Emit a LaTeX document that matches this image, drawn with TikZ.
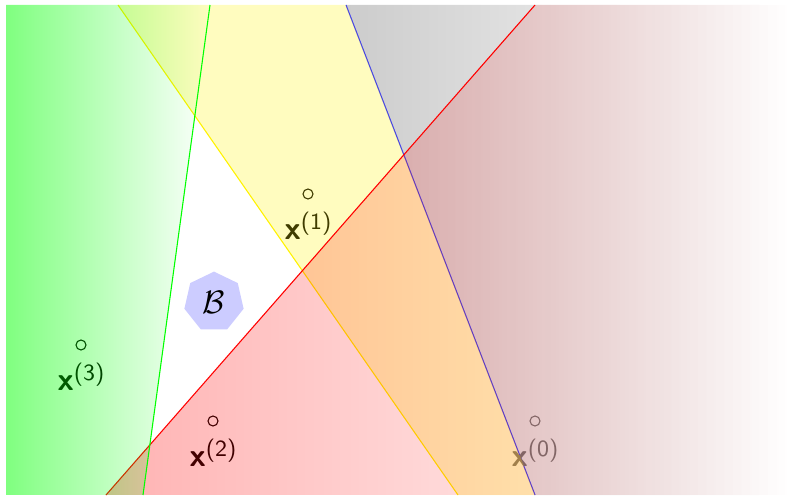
\documentclass[tikz,border=0pt]{standalone}
\usetikzlibrary{fadings, positioning, shapes.geometric}

\tikzfading[name=fade right, left color=transparent!0, right color=transparent!100]
\newcommand{\iterlabel}[1]{{\fontsize{12}{12}\selectfont\bfseries x}\raisebox{3.8pt}{\fontsize{8.6}{9}\selectfont(#1)}}

\begin{document}
\begin{tikzpicture}[
	x=0.013cm,
	y=-0.013cm,
	pt/.style={circle, draw=#1, line width=0.4pt, minimum size=0.13cm, inner sep=0pt},
	lbl/.style={text=#1, font=\fontsize{10}{12}\selectfont\sffamily, inner sep=0pt},
	cut/.style={draw=#1, line width=0.4pt},
	region/.style={fill=#1, path fading=fade right}
]

\useasboundingbox (0,0) rectangle (789,495);

% end points of the cuts
\coordinate (b1) at (346,5);
\coordinate (b2) at (535,495);
\coordinate (y1) at (118,5);
\coordinate (y2) at (458,495);
\coordinate (r1) at (535,5);
\coordinate (r2) at (106,495);
\coordinate (g1) at (210,5);
\coordinate (g2) at (143,495);

% cut at x^(0)
\shade[left color=gray!40, right color=white] (b1) -- (789,5) -- (789,495) -- (b2) -- cycle;
\draw[cut=blue!80] (b1) -- (b2);
\node[pt=black!55] (p0) at (535,421) {};
\node[lbl=black!55, below=0.15cm of p0] (l0) {\iterlabel{0}};

% cut at x^(1)
\node[pt=black] (p1) at (308,194) {};
\node[lbl=black, below=0.15cm of p1] (l1) {\iterlabel{1}};
\fill[yellow, fill opacity=0.25] (y1) -- (b1) -- (b2) -- (y2) -- cycle;
\draw[cut=yellow] (y1) -- (y2);

% cut at x^(2)
\node[pt=black] (p2) at (213,421) {};
\node[lbl=black, below=0.15cm of p2] (l2) {\iterlabel{2}};
\fill[region=red, fill opacity=0.3] (r1) -- (789,5) -- (789,495) -- (r2) -- cycle;
\draw[cut=red] (r1) -- (r2);

% cut at x^(3)
\node[pt=black] (p3) at (81,345) {};
\node[lbl=black, below=0.15cm of p3] (l3) {\iterlabel{3}};
\fill[region=green, fill opacity=0.5] (6,5) -- (g1) -- (g2) -- (6,495) -- cycle;
\draw[cut=green] (g1) -- (g2);

% target set
\node[regular polygon, regular polygon sides=7, fill=blue!20, minimum size=0.79cm, inner sep=0pt, font=\large] (B) at (214,302) {$\mathcal{B}$};

\end{tikzpicture}
\end{document}
